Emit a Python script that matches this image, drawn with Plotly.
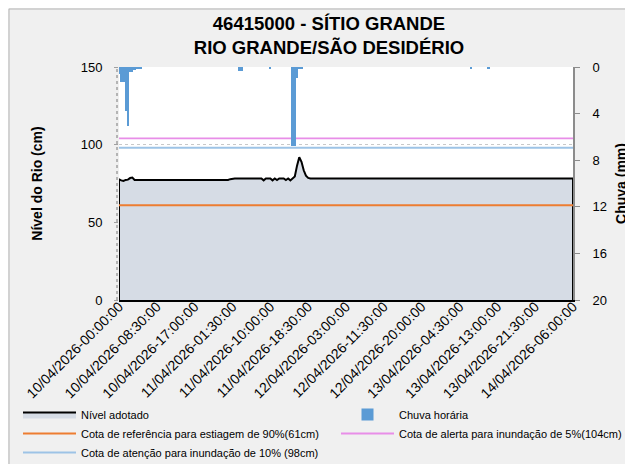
import pandas as pd
import plotly.graph_objects as go

# ---------------- data ----------------
categories = [t.strftime("%d/%m/%Y-%H:%M:%S")
              for t in pd.date_range("2026-04-10 00:00:00", "2026-04-14 06:00:00", freq="30min")]

nivel_adotado = [
    77.7, 77.0, 76.6, 77.3, 77.5, 78.5, 78.8, 77.3, 77.3, 77.3,
    77.3, 77.3, 77.3, 77.3, 77.3, 77.3, 77.3, 77.3, 77.3, 77.3,
    77.3, 77.3, 77.3, 77.3, 77.3, 77.3, 77.3, 77.3, 77.3, 77.3,
    77.3, 77.3, 77.3, 77.3, 77.3, 77.3, 77.3, 77.3, 77.3, 77.3,
    77.3, 77.3, 77.3, 77.3, 77.3, 77.3, 77.3, 77.3, 77.3, 77.3,
    77.8, 78.2, 78.2, 78.2, 78.2, 78.2, 78.2, 78.2, 78.2, 78.2,
    78.2, 78.2, 78.2, 78.2, 78.2, 77.0, 78.2, 78.2, 78.2, 77.0,
    78.2, 77.2, 78.2, 78.2, 78.2, 77.2, 78.2, 77.0, 78.2, 79.5,
    86.5, 91.9, 89.0, 83.5, 80.0, 78.6, 78.2, 78.2, 78.2, 78.2,
    78.2, 78.2, 78.2, 78.2, 78.2, 78.2, 78.2, 78.2, 78.2, 78.2,
    78.2, 78.2, 78.2, 78.2, 78.2, 78.2, 78.2, 78.2, 78.2, 78.2,
    78.2, 78.2, 78.2, 78.2, 78.2, 78.2, 78.2, 78.2, 78.2, 78.2,
    78.2, 78.2, 78.2, 78.2, 78.2, 78.2, 78.2, 78.2, 78.2, 78.2,
    78.2, 78.2, 78.2, 78.2, 78.2, 78.2, 78.2, 78.2, 78.2, 78.2,
    78.2, 78.2, 78.2, 78.2, 78.2, 78.2, 78.2, 78.2, 78.2, 78.2,
    78.2, 78.2, 78.2, 78.2, 78.2, 78.2, 78.2, 78.2, 78.2, 78.2,
    78.2, 78.2, 78.2, 78.2, 78.2, 78.2, 78.2, 78.2, 78.2, 78.2,
    78.2, 78.2, 78.2, 78.2, 78.2, 78.2, 78.2, 78.2, 78.2, 78.2,
    78.2, 78.2, 78.2, 78.2, 78.2, 78.2, 78.2, 78.2, 78.2, 78.2,
    78.2, 78.2, 78.2, 78.2, 78.2, 78.2, 78.2, 78.2, 78.2, 78.2,
    78.2, 78.2, 78.2, 78.2, 78.2,
]

chuva_horaria = [
    0.6, 1.3, 1.3, 3.8, 5.1, 0.4, 0.4, 0.25, 0.1, 0.1,
    0.1, 0, 0, 0, 0, 0, 0, 0, 0, 0,
    0, 0, 0, 0, 0, 0, 0, 0, 0, 0,
    0, 0, 0, 0, 0, 0, 0, 0, 0, 0,
    0, 0, 0, 0, 0, 0, 0, 0, 0, 0,
    0, 0, 0, 0, 0.35, 0.35, 0, 0, 0, 0,
    0, 0, 0, 0, 0, 0, 0, 0, 0.15, 0,
    0, 0, 0, 0, 0, 0, 0, 0, 6.8, 6.8,
    0.95, 0.2, 0.2, 0, 0, 0, 0, 0, 0, 0,
    0, 0, 0, 0, 0, 0, 0, 0, 0, 0,
    0, 0, 0, 0, 0, 0, 0, 0, 0, 0,
    0, 0, 0, 0, 0, 0, 0, 0, 0, 0,
    0, 0, 0, 0, 0, 0, 0, 0, 0, 0,
    0, 0, 0, 0, 0, 0, 0, 0, 0, 0,
    0, 0, 0, 0, 0, 0, 0, 0, 0, 0,
    0, 0, 0, 0, 0, 0, 0, 0, 0.15, 0,
    0, 0, 0, 0, 0, 0, 0.15, 0, 0, 0,
    0, 0, 0, 0, 0, 0, 0, 0, 0, 0,
    0, 0, 0, 0, 0, 0, 0, 0, 0, 0,
    0, 0, 0, 0, 0, 0, 0, 0, 0, 0,
    0, 0, 0, 0, 0,
]

cota_estiagem_90 = 61
cota_alerta_5 = 104
cota_atencao_10 = 98

tick_labels = categories[::17]
n_cat = len(categories)

FONT = "Liberation Sans, Arial, sans-serif"

fig = go.Figure()

# area (closed polygon so the outline includes left edge and bottom)
fig.add_trace(go.Scatter(
    x=[categories[0]] + categories + [categories[-1]],
    y=[0] + nivel_adotado + [0],
    fill="toself", fillcolor="#d6dce5",
    mode="lines", line=dict(color="black", width=2),
    name="Nível adotado", legend="legend", legendgroup="g1", hoverinfo="skip",
))
fig.add_trace(go.Bar(
    x=categories, y=chuva_horaria, yaxis="y2",
    marker=dict(color="#5b9bd5", line=dict(width=0)),
    name="Chuva horária", legend="legend2", legendgroup="g2",
))
fig.add_trace(go.Scatter(
    x=[categories[0], categories[-1]], y=[cota_estiagem_90] * 2,
    mode="lines", line=dict(color="#ed7d31", width=2),
    name="Cota de referência para estiagem de 90%(61cm)", legend="legend", legendgroup="g3",
))
fig.add_trace(go.Scatter(
    x=[categories[0], categories[-1]], y=[cota_alerta_5] * 2,
    mode="lines", line=dict(color="#e88ee8", width=1.8),
    name="Cota de alerta para inundação de 5%(104cm)", legend="legend2", legendgroup="g4",
))
fig.add_trace(go.Scatter(
    x=[categories[0], categories[-1]], y=[cota_atencao_10] * 2,
    mode="lines", line=dict(color="#9dc3e6", width=1.8),
    name="Cota de atenção para inundação de 10% (98cm)", legend="legend", legendgroup="g5",
))

# page has an 8px body margin: work in screen pixels and subtract it
OFF = 8
W, H = 633 - OFF, 464 - OFF
PL, PR, PT, PB = 119, 573, 67, 300          # plot area in screen pixels
L, T = PL - OFF, PT - OFF
pw, ph = PR - PL, PB - PT
R, B = W - L - pw, H - T - ph


def px_x(x):
    return (x - PL) / pw


def px_y(y):
    return (PB - y) / ph


legend_common = dict(
    bgcolor="rgba(0,0,0,0)", borderwidth=0, font=dict(family=FONT, size=11, color="#000"),
    orientation="v", xanchor="left", yanchor="top", itemwidth=53, traceorder="normal",
    tracegroupgap=2, itemclick=False, itemdoubleclick=False,
)

fig.update_layout(
    width=W, height=H,
    margin=dict(l=L, r=R, t=T, b=B, autoexpand=False),
    paper_bgcolor="#f0f0f0", plot_bgcolor="white",
    font=dict(family=FONT, color="#000"),
    title=dict(
        text="<b>46415000 - SÍTIO GRANDE<br>RIO GRANDE/SÃO DESIDÉRIO</b>",
        x=(329 - OFF) / W, xanchor="center", y=0.952, yanchor="top", yref="container",
        font=dict(family=FONT, size=18.5, color="#000"),
    ),
    bargap=0,
    showlegend=True,
    legend=dict(x=px_x(18), y=px_y(400), **legend_common),
    legend2=dict(x=px_x(336), y=px_y(400), **legend_common),
    xaxis=dict(
        type="category", categoryorder="array", categoryarray=categories,
        range=[0, n_cat - 1],
        tickmode="array", tickvals=tick_labels, ticktext=tick_labels,
        tickangle=-45, ticks="", ticklabelstandoff=-9,
        showgrid=False, zeroline=False,
        showline=True, linecolor="black", linewidth=2,
        tickfont=dict(family=FONT, size=14, color="#000"),
        automargin=False,
    ),
    xaxis2=dict(
        overlaying="x", anchor="y", side="bottom",
        range=[0, n_cat - 1], tickmode="linear", tick0=0, dtick=12,
        ticks="outside", ticklen=5, tickwidth=1, tickcolor="#7f7f7f",
        showticklabels=False, showgrid=False, zeroline=False, showline=False,
    ),
    yaxis=dict(
        range=[0, 150], tickmode="linear", tick0=0, dtick=50,
        showgrid=True, gridcolor="#c8c8c8", griddash="dot", gridwidth=1,
        zeroline=False, showline=False,
        ticks="outside", ticklen=4, tickcolor="#a0a0a0", ticklabelstandoff=9,
        tickfont=dict(family=FONT, size=13, color="#000"),
        title=dict(text="<b>Nível do Rio (cm)</b>", standoff=34,
                   font=dict(family=FONT, size=14, color="#000")),
        automargin=False,
    ),
    yaxis2=dict(
        overlaying="y", side="right", range=[20, 0], tickmode="linear", tick0=0, dtick=4,
        showgrid=False, zeroline=False,
        showline=True, linecolor="#8c8c8c", linewidth=2,
        ticks="outside", ticklen=5, tickcolor="#8c8c8c", ticklabelstandoff=10,
        tickfont=dict(family=FONT, size=13, color="#000"),
        title=dict(text="<b>Chuva (mm)</b>", standoff=10,
                   font=dict(family=FONT, size=14, color="#000")),
        automargin=False,
    ),
    shapes=[
        # outer chart border
        dict(type="rect", xref="paper", yref="paper",
             x0=px_x(9), x1=px_x(700), y0=px_y(520), y1=px_y(9),
             line=dict(color="#b4b4b4", width=1), fillcolor="rgba(0,0,0,0)", layer="below"),
        # dotted left axis line
        dict(type="line", xref="paper", yref="paper",
             x0=px_x(117), x1=px_x(117), y0=0, y1=1,
             line=dict(color="#a0a0a0", width=1.5, dash="dot")),
    ],
)

fig.write_html("out.html")
